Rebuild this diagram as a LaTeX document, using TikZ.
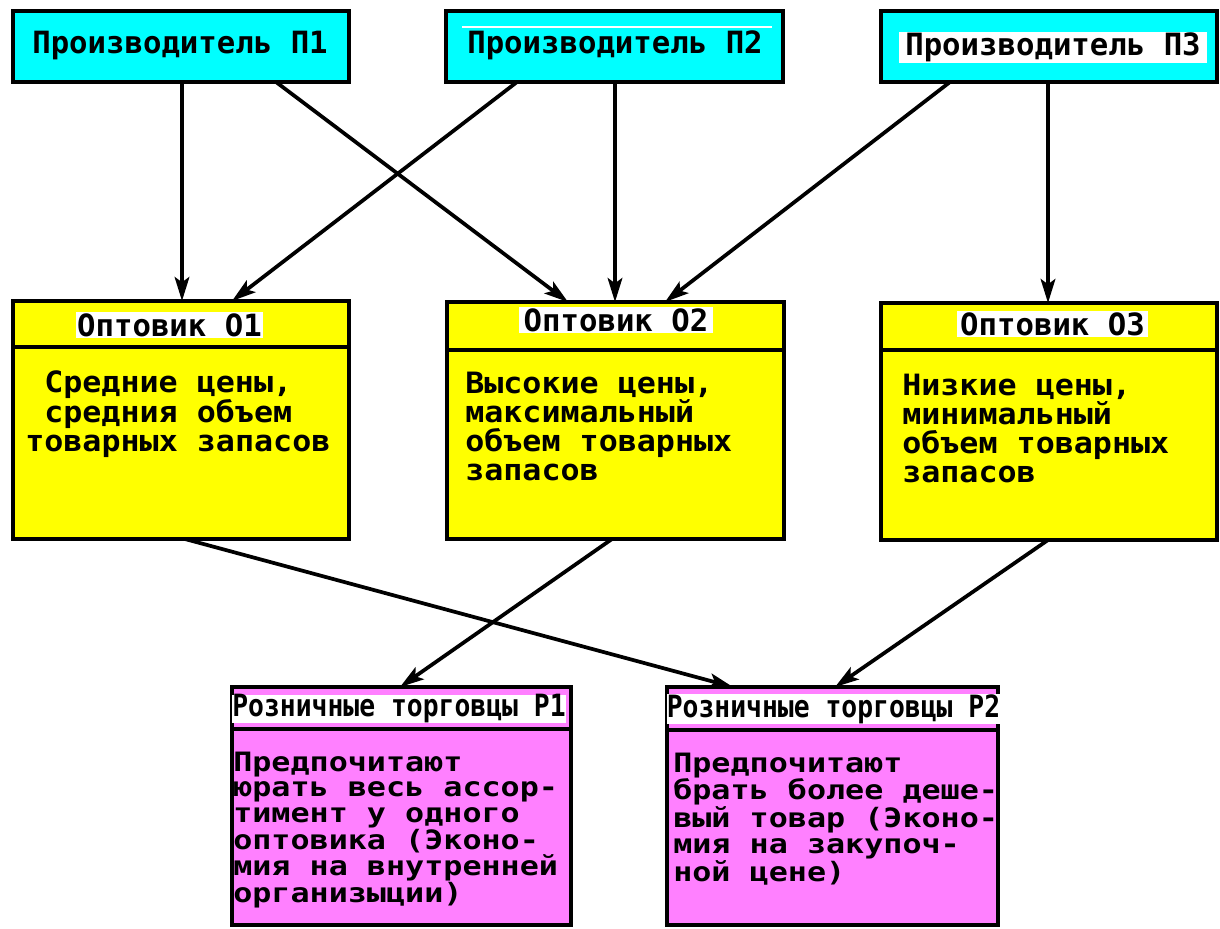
\documentclass[tikz,border=0pt]{standalone}
\usepackage{fontspec}
\newfontfamily\pixf{DejaVu Sans Mono}
\usetikzlibrary{arrows.meta,calc}
\definecolor{cyanbox}{RGB}{0,255,255}
\definecolor{yelbox}{RGB}{255,255,0}
\definecolor{pinkbox}{RGB}{255,128,255}
\tikzset{
  box/.style={draw=black, line width=2.8pt, anchor=north west, inner sep=0pt, outer sep=0pt},
  prod/.style={box, fill=cyanbox},
  whole/.style={box, fill=yelbox},
  retail/.style={box, fill=pinkbox},
  divline/.style={line width=2.4pt},
  arr/.style={line width=2.8pt, -{Stealth[length=18pt,width=11pt,inset=4pt]}},
  ttl/.style={font=\pixf\bfseries\fontsize{23}{23}\selectfont, inner sep=0pt},
  ttlw/.style={ttl, fill=white},
  rttl/.style={font=\pixf\bfseries\fontsize{23}{23}\selectfont, inner sep=0pt, fill=white},
  body/.style={anchor=base west, inner sep=0pt, align=left},
}
% #1 font size, #2 baselineskip, #3 horizontal scale, #4 text
\newcommand\bodytxt[4]{\scalebox{#3}[1]{\parbox[t]{300pt}{\raggedright\pixf\bfseries\fontsize{#1}{#2}\selectfont #4}}}
\begin{document}
\begin{tikzpicture}[x=0.75pt,y=-0.75pt]
\useasboundingbox (0,0) rectangle (1220,928);
\fill[white] (0,0) rectangle (1220,928);

% producers
\node[prod, minimum width=336*0.75pt, minimum height=71*0.75pt] (P1) at (13,11) {};
\node[prod, minimum width=337*0.75pt, minimum height=71*0.75pt] (P2) at (446,11) {};
\node[prod, minimum width=336*0.75pt, minimum height=71*0.75pt] (P3) at (881,11) {};

\node[ttl, anchor=base] (tP1) at (180,53) {Производитель П1};
\draw[white, line width=1.2pt] (462,27) -- (772,27);
\node[ttl, anchor=base] (tP2) at (615,53) {Производитель П2};
\node[ttlw, minimum width=308*0.75pt, minimum height=31*0.75pt] (tP3) at (1053,47.5) {Производитель П3};

% wholesalers
\node[whole, minimum width=336*0.75pt, minimum height=238*0.75pt] (O1) at (13,301) {};
\node[whole, minimum width=337*0.75pt, minimum height=237*0.75pt] (O2) at (447,302) {};
\node[whole, minimum width=336*0.75pt, minimum height=237*0.75pt] (O3) at (881,303) {};
\draw[divline] ($(O1.north west)+(0,46)$) -- ($(O1.north east)+(0,46)$);
\draw[divline] ($(O2.north west)+(0,48)$) -- ($(O2.north east)+(0,48)$);
\draw[divline] ($(O3.north west)+(0,47)$) -- ($(O3.north east)+(0,47)$);

\node[ttlw, minimum width=187*0.75pt, minimum height=26*0.75pt] (tO1) at (169.5,325) {Оптовик О1};
\node[ttlw, minimum width=194*0.75pt, minimum height=26*0.75pt] (tO2) at (616,320) {Оптовик О2};
\node[ttlw, minimum width=191*0.75pt, minimum height=26*0.75pt] (tO3) at (1052.5,324) {Оптовик О3};

\node[body] (bO1) at (25,392) {\bodytxt{22pt}{21.75pt}{1.08}{\hspace*{0.6em}Средние цены,\\\hspace*{0.6em}средния объем\\товарных запасов}};
\node[body] (bO2) at (465,393) {\bodytxt{22pt}{21.75pt}{1.08}{Высокие цены,\\максимальный\\объем товарных\\запасов}};
\node[body] (bO3) at (902,395) {\bodytxt{22pt}{21.75pt}{1.08}{Низкие цены,\\минимальный\\объем товарных\\запасов}};

% retailers
\node[retail, minimum width=339*0.75pt, minimum height=238*0.75pt] (R1) at (232,687) {};
\node[retail, minimum width=331*0.75pt, minimum height=238*0.75pt] (R2) at (667,687) {};
\draw[divline] ($(R1.north west)+(0,42)$) -- ($(R1.north east)+(0,42)$);
\draw[divline] ($(R2.north west)+(0,43)$) -- ($(R2.north east)+(0,43)$);

\node[rttl, minimum width=332*0.75pt, minimum height=28*0.75pt] (tR1) at (399,709) {\scalebox{0.86}[1]{Розничные торговцы Р1}};
\node[rttl, minimum width=327*0.75pt, minimum height=28*0.75pt] (tR2) at (833.5,709) {\scalebox{0.86}[1]{Розничные торговцы Р2}};

\node[body] (bR1) at (233,771) {\bodytxt{20pt}{19.3pt}{1.19}{Предпочитают\\юрать весь ассор-\\тимент у одного\\оптовика (Эконо-\\мия на внутренней\\организыции)}};
\node[body] (bR2) at (673,772) {\bodytxt{20pt}{19.6pt}{1.19}{Предпочитают\\брать более деше-\\вый товар (Эконо-\\мия на закупоч-\\ной цене)}};

% connectors
\draw[arr] ($(P1.south west)+(169,0)$) -- ($(O1.north west)+(169,0)$);
\draw[arr] ($(P1.south west)+(263,0)$) -- ($(O2.north west)+(121,0)$);
\draw[arr] ($(P2.south west)+(71,0)$) -- ($(O1.north west)+(219,0)$);
\draw[arr] ($(P2.south west)+(169,0)$) -- ($(O2.north west)+(168,0)$);
\draw[arr] ($(P3.south west)+(69,0)$) -- ($(O2.north west)+(218,0)$);
\draw[arr] ($(P3.south west)+(167,0)$) -- ($(O3.north west)+(167,0)$);
\draw[arr] ($(O1.south west)+(172,0)$) -- ($(R2.north west)+(66,0)$);
\draw[arr] ($(O2.south west)+(165,0)$) -- ($(R1.north west)+(168,0)$);
\draw[arr] ($(O3.south west)+(167,0)$) -- ($(R2.north west)+(168,0)$);
\end{tikzpicture}
\end{document}
